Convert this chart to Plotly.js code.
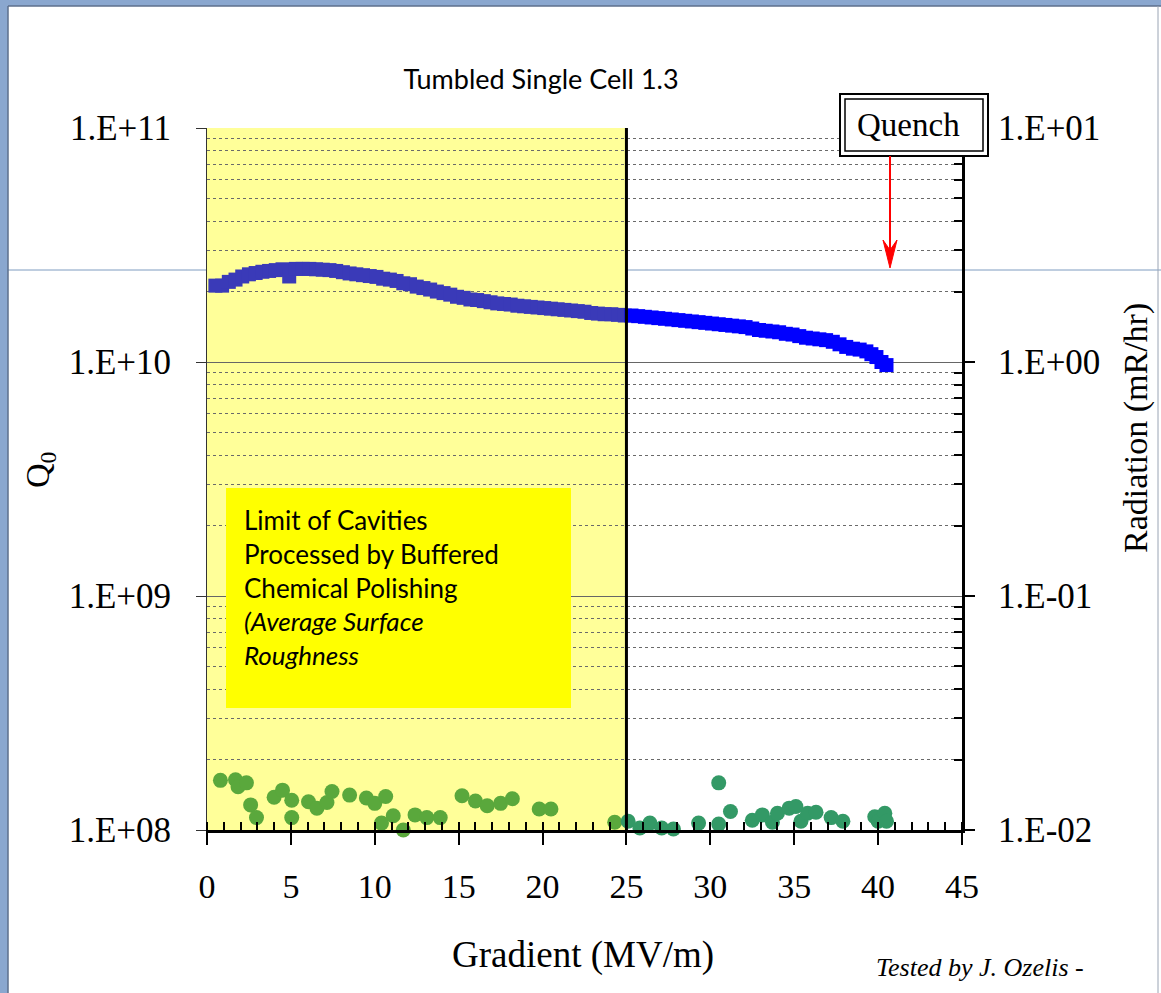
<!DOCTYPE html>
<html>
<head>
<meta charset="utf-8">
<script src="https://cdn.plot.ly/plotly-3.0.1.min.js"></script>
<style>html,body{margin:0;padding:0;background:#fff;}#chart{width:1161px;height:993px;}</style>
</head>
<body>
<div id="chart"></div>
<script>
// ---- data ----
const gradientQ = [0.5,0.9,1.3,1.7,2.1,2.5,2.9,3.3,3.7,4.1,4.5,4.9,5.3,5.7,6.1,6.5,6.9,7.3,7.7,8.1,8.5,8.9,9.3,9.7,10.1,10.5,10.9,11.3,11.7,12.1,12.5,12.9,13.3,13.7,14.1,14.5,14.9,15.3,15.7,16.1,16.5,16.9,17.3,17.7,18.1,18.5,18.9,19.3,19.7,20.1,20.5,20.9,21.3,21.7,22.1,22.5,22.9,23.3,23.7,24.1,24.5,24.9,25.3,25.7,26.1,26.5,26.9,27.3,27.7,28.1,28.5,28.9,29.3,29.7,30.1,30.5,30.9,31.3,31.7,32.1,32.5,32.9,33.3,33.7,34.1,34.5,34.9,35.3,35.7,36.1,36.5,36.9,37.3,37.7,38.1,38.5,38.9,39.3,39.6,39.9,40.2,40.5];
const q0 = [2.12e10,2.12e10,2.20e10,2.25e10,2.32e10,2.37e10,2.40e10,2.43e10,2.45e10,2.47e10,2.49e10,2.32e10,2.50e10,2.50e10,2.50e10,2.49e10,2.48e10,2.47e10,2.45e10,2.42e10,2.39e10,2.37e10,2.35e10,2.33e10,2.31e10,2.27e10,2.25e10,2.22e10,2.17e10,2.15e10,2.10e10,2.07e10,2.04e10,2.00e10,1.97e10,1.94e10,1.90e10,1.88e10,1.85e10,1.84e10,1.82e10,1.80e10,1.78e10,1.77e10,1.76e10,1.74e10,1.73e10,1.72e10,1.71e10,1.70e10,1.69e10,1.68e10,1.67e10,1.66e10,1.65e10,1.64e10,1.62e10,1.61e10,1.60e10,1.60e10,1.59e10,1.58e10,1.58e10,1.57e10,1.56e10,1.55e10,1.54e10,1.53e10,1.52e10,1.51e10,1.50e10,1.49e10,1.48e10,1.47e10,1.46e10,1.45e10,1.44e10,1.43e10,1.42e10,1.41e10,1.39e10,1.37e10,1.36e10,1.35e10,1.34e10,1.32e10,1.31e10,1.29e10,1.27e10,1.26e10,1.25e10,1.24e10,1.22e10,1.19e10,1.16e10,1.14e10,1.13e10,1.11e10,1.08e10,1.05e10,1.00e10,0.97e10];

const gradientR = [0.8,1.7,1.85,2.35,2.6,2.95,4.0,4.5,5.05,5.05,6.05,6.55,7.15,7.45,8.5,9.5,10.0,10.65,10.4,11.1,11.7,12.4,13.1,13.9,15.2,16.0,16.7,17.5,18.2,19.8,20.5,24.3,25.1,25.8,26.4,27.1,27.8,29.3,30.5,30.5,31.2,32.5,33.1,33.7,34.0,34.7,35.1,35.4,35.8,36.3,37.2,37.9,39.8,40.0,40.4,40.5];
const radiation = [0.0163,0.0164,0.0153,0.0159,0.0128,0.0113,0.0138,0.0148,0.0134,0.0113,0.0132,0.0124,0.0131,0.0146,0.0141,0.0137,0.0130,0.0139,0.0107,0.0115,0.0100,0.0116,0.0113,0.0113,0.0140,0.0133,0.0127,0.0130,0.0136,0.0123,0.0123,0.0108,0.0109,0.0102,0.0107,0.0102,0.0101,0.0107,0.0159,0.0106,0.0120,0.0110,0.0116,0.0108,0.0118,0.0124,0.0126,0.0109,0.0118,0.0119,0.0113,0.0109,0.0114,0.0109,0.0118,0.0109];

const q0TickVals = [1e8,1e9,1e10,1e11];
const q0TickText = ['1.E+08','1.E+09','1.E+10','1.E+11'];
const radTickVals = [0.01,0.1,1,10];
const radTickText = ['1.E-02','1.E-01','1.E+00','1.E+01'];
const bcpLimit = 25;

// ---- geometry helpers (pixel -> paper) ----
const L = 207, R = 962, T = 128, B = 830;
const px2x = p => (p - L) / (R - L);
const px2y = p => (B - p) / (B - T);

function minorVals(lo, hi) {
  const v = [];
  for (let e = lo; e < hi; e++) for (let m = 2; m <= 9; m++) v.push(m * Math.pow(10, e));
  return v;
}

const serif = 'Liberation Serif, Times New Roman, serif';
const sans = 'Lato, Open Sans, sans-serif';

const traces = [
  {
    x: gradientQ, y: q0, type: 'scatter', mode: 'markers', name: 'Q0',
    marker: {symbol: 'square', size: 14, color: gradientQ.map(g => g < bcpLimit ? '#3a3ab8' : '#0000ff')},
    cliponaxis: false, showlegend: false
  },
  {
    x: gradientR, y: radiation, type: 'scatter', mode: 'markers', name: 'Radiation', yaxis: 'y2',
    marker: {symbol: 'circle', size: 15, color: gradientR.map(g => g < bcpLimit ? '#5aa83c' : '#339966')},
    cliponaxis: false, showlegend: false
  }
];

const arrowPath = 'M ' + px2x(890) + ' ' + px2y(268) + ' L ' + px2x(883) + ' ' + px2y(240) +
  ' L ' + px2x(890) + ' ' + px2y(250) + ' L ' + px2x(897) + ' ' + px2y(240) + ' Z';

const layout = {
  width: 1161, height: 993,
  margin: {l: L, r: 1161 - R, t: T, b: 993 - B, pad: 0},
  paper_bgcolor: '#ffffff', plot_bgcolor: '#ffffff',
  showlegend: false,
  title: {
    text: 'Tumbled Single Cell 1.3',
    font: {family: sans, size: 27, color: '#000'},
    x: px2x(541), xref: 'paper', xanchor: 'center',
    y: 1 - 80 / 993, yref: 'container', yanchor: 'middle'
  },
  xaxis: {
    range: [0, 45], dtick: 5, tick0: 0,
    showgrid: false, zeroline: false,
    showline: true, linecolor: '#000', linewidth: 3,
    ticks: 'outside', ticklen: 12, tickwidth: 2, tickcolor: '#000',
    ticklabelstandoff: 12,
    tickfont: {family: serif, size: 34, color: '#000'},
    minor: {dtick: 1, ticks: 'inside', ticklen: 8, tickwidth: 2, tickcolor: '#000', showgrid: false}
  },
  yaxis: {
    type: 'log', range: [8, 11],
    tickmode: 'array', tickvals: q0TickVals, ticktext: q0TickText,
    showgrid: true, gridcolor: '#666', gridwidth: 1,
    zeroline: false,
    showline: true, linecolor: '#333', linewidth: 1,
    ticks: 'outside', ticklen: 10, tickwidth: 1, tickcolor: '#333',
    ticklabelstandoff: 18,
    tickfont: {family: serif, size: 35, color: '#000'},
    minor: {tickmode: 'array', tickvals: minorVals(8, 11), showgrid: true, gridcolor: '#6a6a6a', gridwidth: 1, griddash: 'dot', ticks: ''}
  },
  yaxis2: {
    type: 'log', range: [-2, 1], overlaying: 'y', side: 'right',
    tickmode: 'array', tickvals: radTickVals, ticktext: radTickText,
    showgrid: false, zeroline: false,
    showline: true, linecolor: '#000', linewidth: 3,
    ticks: 'outside', ticklen: 10, tickwidth: 2, tickcolor: '#000',
    ticklabelstandoff: 16,
    tickfont: {family: serif, size: 35, color: '#000'},
    minor: {tickmode: 'array', tickvals: minorVals(-2, 1), ticks: 'inside', ticklen: 8, tickwidth: 2, tickcolor: '#000', showgrid: false}
  },
  shapes: [
    // slide line behind chart
    {type: 'line', xref: 'paper', yref: 'paper', x0: px2x(8), x1: px2x(1161), y0: px2y(270), y1: px2y(270), line: {color: '#7f9cc0', width: 1}, layer: 'below'},
    // BCP region
    {type: 'rect', xref: 'x', yref: 'paper', x0: 0, x1: bcpLimit, y0: 0, y1: 1, fillcolor: '#ffff99', line: {width: 0}, layer: 'below'},
    // boundary line at 25 MV/m
    {type: 'line', xref: 'x', yref: 'paper', x0: bcpLimit, x1: bcpLimit, y0: 0, y1: 1, line: {color: '#000', width: 3}, layer: 'above'},
    // text box
    {type: 'rect', xref: 'paper', yref: 'paper', x0: px2x(226), x1: px2x(571), y0: px2y(708), y1: px2y(488), fillcolor: '#ffff00', line: {width: 0}, layer: 'above'},
    // Quench double box
    {type: 'rect', xref: 'paper', yref: 'paper', x0: px2x(840), x1: px2x(988), y0: px2y(156), y1: px2y(94), fillcolor: '#ffffff', line: {color: '#000', width: 2}, layer: 'above'},
    {type: 'rect', xref: 'paper', yref: 'paper', x0: px2x(845), x1: px2x(983), y0: px2y(151), y1: px2y(99), fillcolor: 'rgba(0,0,0,0)', line: {color: '#000', width: 1.5}, layer: 'above'},
    // Quench arrow
    {type: 'line', xref: 'paper', yref: 'paper', x0: px2x(890), x1: px2x(890), y0: px2y(156), y1: px2y(252), line: {color: '#ff0000', width: 2}, layer: 'above'},
    {type: 'path', xref: 'paper', yref: 'paper', path: arrowPath, fillcolor: '#ff0000', line: {color: '#ff0000', width: 1}, layer: 'above'},
    // slide frame
    {type: 'rect', xref: 'paper', yref: 'paper', x0: px2x(0), x1: px2x(8), y0: px2y(993), y1: px2y(0), fillcolor: '#8aa7cf', line: {width: 0}, layer: 'above'},
    {type: 'rect', xref: 'paper', yref: 'paper', x0: px2x(0), x1: px2x(1161), y0: px2y(6), y1: px2y(0), fillcolor: '#8aa7cf', line: {width: 0}, layer: 'above'},
    {type: 'line', xref: 'paper', yref: 'paper', x0: px2x(8), x1: px2x(8), y0: px2y(993), y1: px2y(6), line: {color: '#5d6f8c', width: 1.5}, layer: 'above'},
    {type: 'line', xref: 'paper', yref: 'paper', x0: px2x(8), x1: px2x(1161), y0: px2y(6), y1: px2y(6), line: {color: '#5d6f8c', width: 1.5}, layer: 'above'},
    {type: 'line', xref: 'paper', yref: 'paper', x0: px2x(1158), x1: px2x(1158), y0: px2y(993), y1: px2y(6), line: {color: '#9aa4b4', width: 1}, layer: 'above'}
  ],
  annotations: [
    {text: 'Limit of Cavities<br>Processed by Buffered<br>Chemical Polishing<br><i>(Average Surface</i><br><i>Roughness</i>',
     xref: 'paper', yref: 'paper', x: px2x(242), y: px2y(502), xanchor: 'left', yanchor: 'top', align: 'left',
     showarrow: false, font: {family: sans, size: 26, color: '#000'}},
    {text: 'Quench', xref: 'paper', yref: 'paper', x: px2x(908), y: px2y(125), xanchor: 'center', yanchor: 'middle',
     showarrow: false, font: {family: serif, size: 33, color: '#000'}},
    {text: 'Q<sub>0</sub>', xref: 'paper', yref: 'paper', x: px2x(40), y: px2y(470), xanchor: 'center', yanchor: 'middle',
     textangle: -90, showarrow: false, font: {family: serif, size: 34, color: '#000'}},
    {text: 'Radiation (mR/hr)', xref: 'paper', yref: 'paper', x: px2x(1136), y: px2y(428), xanchor: 'center', yanchor: 'middle',
     textangle: -90, showarrow: false, font: {family: serif, size: 34, color: '#000'}},
    {text: 'Gradient (MV/m)', xref: 'paper', yref: 'paper', x: px2x(583), y: px2y(955), xanchor: 'center', yanchor: 'middle',
     showarrow: false, font: {family: serif, size: 37, color: '#000'}},
    {text: '<i>Tested by J. Ozelis -</i>', xref: 'paper', yref: 'paper', x: px2x(874), y: px2y(967), xanchor: 'left', yanchor: 'middle',
     showarrow: false, font: {family: serif, size: 26, color: '#000'}}
  ]
};

Plotly.newPlot('chart', traces, layout, {displayModeBar: false, responsive: false});
</script>
</body>
</html>
